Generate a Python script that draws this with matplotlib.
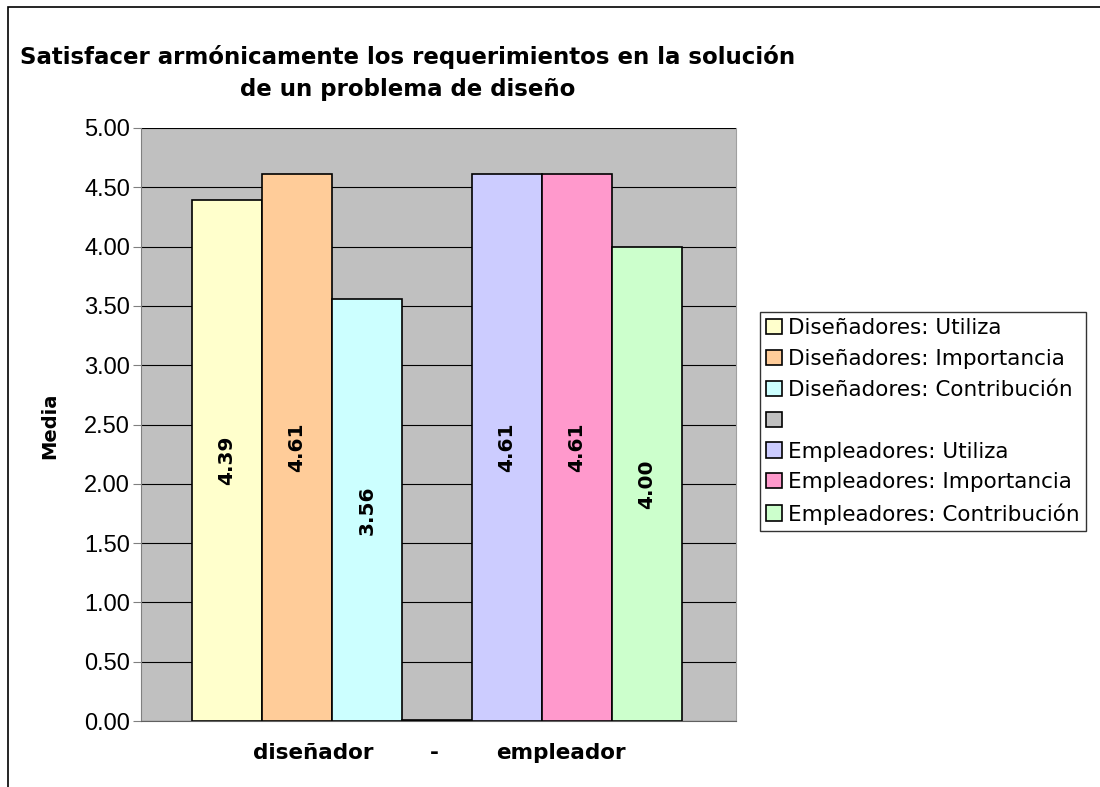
import matplotlib
matplotlib.use("Agg")
import matplotlib.pyplot as plt
from matplotlib.patches import Rectangle

# datos del grafico
series = ["Diseñadores: Utiliza", "Diseñadores: Importancia", "Diseñadores: Contribución", "",
          "Empleadores: Utiliza", "Empleadores: Importancia", "Empleadores: Contribución"]
values = [4.39, 4.61, 3.56, 0.01, 4.61, 4.61, 4.00]
labels = ["4.39", "4.61", "3.56", "", "4.61", "4.61", "4.00"]
colors = ["#FFFFCC", "#FFCC99", "#CCFFFF", "#C0C0C0", "#CCCCFF", "#FF99CC", "#CCFFCC"]
yticks = [0, 0.5, 1, 1.5, 2, 2.5, 3, 3.5, 4, 4.5, 5]

fig = plt.figure(figsize=(11, 7.87), dpi=100)
ax = fig.add_axes([141/1100, 1-721/787, 595/1100, 593/787])
ax.set_facecolor("#C0C0C0")

# marco del grafico
fig.patches.append(Rectangle((8/1100, -0.1), 1.2, 1.1-7/787, transform=fig.transFigure,
                             fill=False, edgecolor="black", linewidth=1.2))

for i, (v, c, s) in enumerate(zip(values, colors, series)):
    ax.bar(i, v, width=1.0, color=c, edgecolor="black", linewidth=1.2, label=s if s else " ")
    if labels[i]:
        ax.text(i, v/2, labels[i], rotation=90, ha="center", va="center",
                fontsize=14.5, fontweight="bold", family="DejaVu Sans")

ax.set_xlim(-1.23, 7.27)
ax.set_ylim(0, 5)
ax.set_yticks(yticks)
ax.set_yticklabels(["%.2f" % t for t in yticks], fontsize=17, family="Liberation Sans")
ax.set_xticks([])
ax.grid(axis="y", color="black", linewidth=0.8)
ax.set_axisbelow(True)
ax.spines["left"].set_color("#808080")
ax.spines["bottom"].set_color("#606060")
ax.spines["top"].set_visible(False)
ax.spines["right"].set_color("#a0a0a0")
ax.tick_params(axis="y", length=6, color="#808080", pad=2)

fig.text(50/1100, 1-426/787, "Media", rotation=90, ha="center", va="center",
         fontsize=14, fontweight="bold", family="DejaVu Sans")

# etiqueta del eje x
for txt, xp in [("diseñador", 313), ("-", 434), ("empleador", 561)]:
    fig.text(xp/1100, 1-753/787, txt, ha="center", va="center",
             fontsize=15.5, fontweight="bold", family="DejaVu Sans")

fig.text(408/1100, 1-73/787, "Satisfacer armónicamente los requerimientos en la solución\nde un problema de diseño",
         ha="center", va="center", multialignment="center", fontsize=16.5, fontweight="bold",
         family="DejaVu Sans", linespacing=1.45)

leg = ax.legend(loc="upper left", bbox_to_anchor=(760/1100, 1-312/787), bbox_transform=fig.transFigure,
                fontsize=15.5, frameon=True, fancybox=False, edgecolor="black",
                handlelength=0.7, handleheight=0.7, handletextpad=0.3, borderpad=0.3,
                labelspacing=0.5, borderaxespad=0)
leg.get_frame().set_linewidth(1.0)

fig.savefig("out.png", dpi=100)
